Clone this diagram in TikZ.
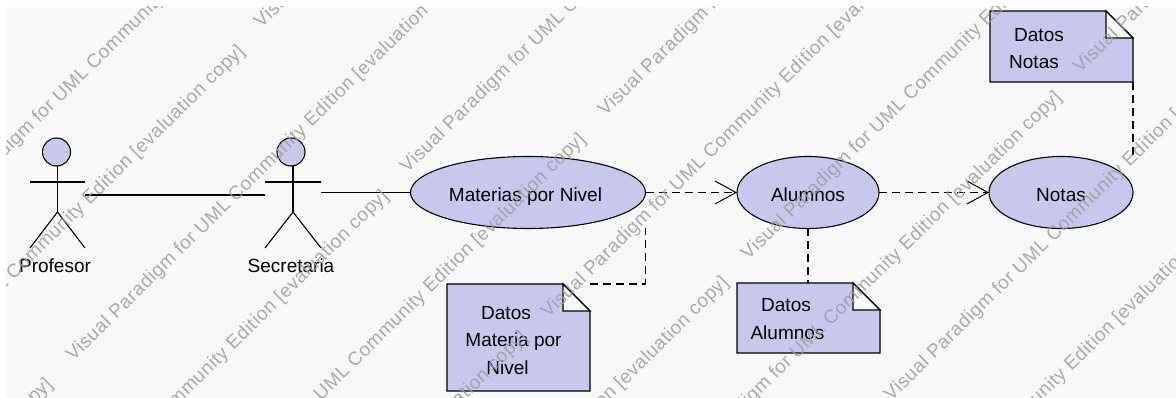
\documentclass[tikz,border=0pt]{standalone}
\usepackage{fontspec}
\setmainfont{Liberation Sans}
\newfontfamily\wmfont[LetterSpace=3]{Liberation Sans}
\usetikzlibrary{arrows.meta,shapes.geometric}
\definecolor{umlfill}{HTML}{C8C8EE}
\definecolor{wmgray}{HTML}{9C9C9C}
\definecolor{canvasbg}{HTML}{F8F8F8}
\tikzset{
  umlline/.style={draw=black,line width=1.1pt},
  ghost/.style={inner sep=0pt,outer sep=0pt},
  usecase/.style={ellipse,draw=black,line width=1.1pt,fill=umlfill,inner sep=0pt,outer sep=0pt,font=\fontsize{19}{24}\selectfont},
  head/.style={circle,draw=black,line width=1.1pt,fill=umlfill,minimum size=28pt,inner sep=0pt,outer sep=0pt},
  notebody/.style={draw=black,line width=1.1pt,fill=umlfill,line join=miter},
  txt/.style={inner sep=0pt,outer sep=0pt,align=center,font=\fontsize{19}{27.5}\selectfont},
  dep/.style={draw=black,line width=1.1pt,dash pattern=on 8pt off 5pt},
  flow/.style={dep,-{Straight Barb[length=21pt,width=23pt,line width=1pt]}},
  wm/.style={anchor=west,rotate=44.5,inner sep=0pt,outer sep=0pt,text=wmgray,opacity=.85,font=\wmfont\fontsize{19}{24}\selectfont},
}
\newcommand{\umlnote}[1]{%
  \path[notebody] (#1.north west) -- ([xshift=-27pt]#1.north east) -- ([yshift=-27pt]#1.north east) -- (#1.south east) -- (#1.south west) -- cycle;
  \path[notebody,fill=canvasbg] ([xshift=-27pt]#1.north east) -- ([xshift=-27pt,yshift=-27pt]#1.north east) -- ([yshift=-27pt]#1.north east) -- cycle;
}
\newcommand{\uctext}[1]{\raisebox{-9pt}[0pt][0pt]{#1}}
\begin{document}
\begin{tikzpicture}[x=1pt,y=-1pt]
\useasboundingbox (0,0) rectangle (1176,398);
\fill[white] (0,0) rectangle (1176,398);
\fill[canvasbg] (6,7) rectangle (1176,398);

% actors
\node[head] (profhead) at (56.5,152) {};
\node[head] (sechead) at (291,152) {};
\draw[umlline] (profhead.south) ++(1,0) -- ++(0,46) coordinate (profhip);
\draw[umlline] (30,182) -- (85,182);
\draw[umlline] (profhip) -- (30,248);
\draw[umlline] (profhip) -- (85,248);
\draw[umlline] (sechead.south) ++(2,0) -- ++(0,46) coordinate (sechip);
\draw[umlline] (265,182) -- (321,182);
\draw[umlline] (sechip) -- (265,248);
\draw[umlline] (sechip) -- (321,248);
\node[ghost,minimum width=55pt,minimum height=114pt] (prof) at (57,195) {};
\node[ghost,minimum width=56pt,minimum height=114pt] (sec) at (293,192.5) {};
\node[txt] (proflabel) at (55,266) {Profesor};
\node[txt] (seclabel) at (291,266) {Secretaria};

% use cases
\node[usecase,minimum width=235pt,minimum height=72pt] (mat) at (528,192.5) {\uctext{\hspace*{-5pt}Materias por Nivel}};
\node[usecase,minimum width=142pt,minimum height=72pt] (alu) at (808,192.5) {\uctext{Alumnos}};
\node[usecase,minimum width=144pt,minimum height=72pt] (not) at (1061,192.5) {\uctext{Notas}};

% notes
\node[ghost,minimum width=143pt,minimum height=107pt] (n1) at (518.5,337.5) {};
\node[ghost,minimum width=143pt,minimum height=70pt] (n2) at (808.5,318) {};
\node[ghost,minimum width=143pt,minimum height=71pt] (n3) at (1061.5,46.5) {};
\umlnote{n1}
\umlnote{n2}
\umlnote{n3}
\node[txt] (n1text) at (510,340.5) {\hspace*{-8pt}Datos\\[0pt]\hspace*{7pt}Materia por\\\hspace*{-5pt}Nivel};
\node[txt] (n2text) at (786,319) {Datos\\\hspace*{3pt}Alumnos};
\node[txt] (n3text) at (1036,48.5) {\hspace*{6pt}Datos\\\hspace*{-4pt}Notas};

% connectors
\draw[umlline] (prof.east) -- (sec.west |- prof.east);
\draw[umlline] (sec.east) -- (mat.west);
\draw[flow] (mat.east) -- (alu.west);
\draw[flow] (alu.east) -- (not.west);
\draw[dep] (n1.north east) -- (mat.east |- n1.north east) -- (mat.east |- mat.south);
\draw[dep] (alu.south) -- (alu.south |- n2.north);
\draw[dep] (n3.south east) -- (n3.south east |- not.north);

% watermark
\begin{scope}
\clip (6,7) rectangle (1176,398);
\foreach \px/\py [count=\i] in {-344/769,70/358,-72/226,-152/436,258/25,-8/581,404/170,189/524,602/113,131/722,545/315,332/667,745/257,665/482,1077/70,888/398,830/602}
  \node[wm] (wm\i) at (\px,\py) {Visual Paradigm for UML Community Edition [evaluation copy]};
\end{scope}
\end{tikzpicture}
\end{document}
